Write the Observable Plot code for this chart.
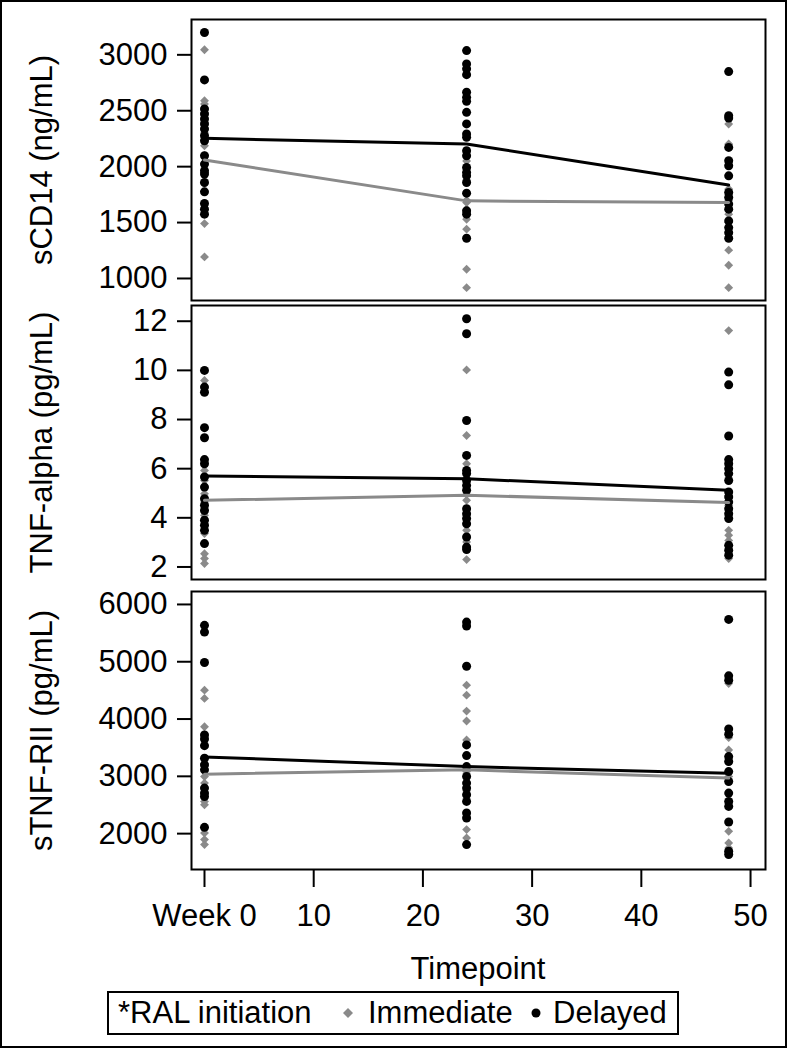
<!DOCTYPE html>
<html>
<head>
<meta charset="utf-8">
<script src="https://cdn.jsdelivr.net/npm/d3@7"></script>
<script src="https://cdn.jsdelivr.net/npm/@observablehq/plot@0.6"></script>
<style>
  body { margin: 0; background: #fff; }
  #fig { position: relative; width: 788px; height: 1050px; background: #fff; overflow: hidden;
         font-family: "Liberation Sans", Arial, sans-serif; color: #000; }
  .abs { position: absolute; }
  #border { position: absolute; left: 0; top: 0; width: 787px; height: 1048px; border: 2px solid #000; box-sizing: border-box; pointer-events: none; }
  #xtitle { position: absolute; left: 191px; width: 574px; top: 953px; text-align: center; font-size: 31px; line-height: 31px; }
  #legend { position: absolute; left: 107px; top: 991px; width: 572px; height: 44px; border: 2px solid #000; box-sizing: border-box; font-size: 31px; }
  #legend span { position: absolute; top: 0; line-height: 40px; white-space: nowrap; }
  #legend svg { position: absolute; }
</style>
</head>
<body>
<div id="fig">
  <div id="border"></div>
  <div id="xtitle">Timepoint</div>
  <div id="legend"></div>
</div>
<script>
// ---------------- data ----------------
const weeks = [0, 24, 48];
const xTicks = [0, 10, 20, 30, 40, 50];
const groupNames = ["Immediate", "Delayed"];
const legendTitle = "*RAL initiation";
const xTitle = "Timepoint";

// sCD14 (ng/mL): one array per timepoint (week 0, 24, 48)
const sCD14Immediate = [
  [3045, 2590, 2560, 2480, 2400, 2337, 2300, 2187, 2100, 2023, 1950, 1850, 1491, 1193],
  [2050, 1950, 1874, 1700, 1680, 1620, 1530, 1441, 1082, 918],
  [2382, 2203, 1800, 1694, 1575, 1500, 1253, 1118, 918]
];
const sCD14Delayed = [
  [3200, 2776, 2516, 2471, 2427, 2382, 2337, 2277, 2232, 2098, 2023, 1963, 1934, 1858, 1775, 1670, 1620, 1575],
  [3038, 2919, 2875, 2823, 2665, 2620, 2584, 2486, 2382, 2292, 2262, 2142, 2098, 1993, 1948, 1918, 1858, 1763, 1605, 1575, 1360],
  [2850, 2456, 2435, 2172, 2053, 2008, 1918, 1769, 1724, 1665, 1620, 1515, 1455, 1410, 1360]
];
const sCD14ImmediateLine = [2059, 1694, 1679];
const sCD14DelayedLine = [2253, 2203, 1835];
const sCD14Ticks = [1000, 1500, 2000, 2500, 3000];

// TNF-alpha (pg/mL)
const tnfImmediate = [
  [9.59, 5.93, 5.52, 4.98, 4.64, 4.1, 3.36, 2.54, 2.34, 2.14],
  [10.02, 7.35, 6.2, 4.95, 4.71, 3.49, 3.02, 2.3],
  [11.62, 4.9, 4.5, 3.49, 3.29, 3.08, 2.34]
];
const tnfDelayed = [
  [10.0, 9.32, 9.11, 7.67, 7.26, 6.37, 6.2, 5.66, 5.25, 4.78, 4.51, 4.3, 3.9, 3.7, 3.49, 2.95],
  [12.1, 11.49, 7.96, 6.54, 5.93, 5.8, 5.52, 5.32, 5.12, 4.37, 4.17, 3.97, 3.76, 3.22, 2.81, 2.71],
  [9.93, 9.41, 7.33, 6.37, 6.2, 6.0, 5.8, 5.52, 5.05, 4.85, 4.64, 4.37, 4.17, 3.97, 2.88, 2.68, 2.48]
];
const tnfImmediateLine = [4.71, 4.92, 4.62];
const tnfDelayedLine = [5.70, 5.59, 5.12];
const tnfTicks = [2, 4, 6, 8, 10, 12];

// sTNF-RII (pg/mL)
const stnfImmediate = [
  [4504, 4360, 3866, 3220, 2997, 2882, 2562, 2504, 2012, 1896, 1809],
  [4591, 4417, 4139, 3965, 3635, 3083, 2750, 2070, 1925],
  [4620, 3675, 3461, 2997, 2040, 1838, 1751]
];
const stnfDelayed = [
  [5635, 5518, 4986, 3722, 3652, 3536, 3316, 3200, 3113, 2795, 2708, 2649, 2110],
  [5692, 5623, 4922, 3548, 3362, 3170, 2997, 2882, 2795, 2678, 2562, 2360, 2273, 1809],
  [5739, 4754, 4678, 3826, 3734, 3345, 3258, 3083, 2910, 2708, 2562, 2475, 2203, 1692, 1635]
];
const stnfImmediateLine = [3038, 3113, 2969];
const stnfDelayedLine = [3339, 3170, 3056];
const stnfTicks = [2000, 3000, 4000, 5000, 6000];

// ---------------- drawing ----------------
const FONT = '"Liberation Sans", Arial, sans-serif';
const FS = 31;
const GRAY = "#8a8a8a";
const xDomain = [-1.19, 51.37];

const tidy = (arr) => arr.flatMap((vals, i) => vals.map(v => ({week: weeks[i], value: v})));
const lineData = (vals) => vals.map((v, i) => ({week: weeks[i], value: v}));

function panel({top, bottom, domain, ticks, title, imm, del, immLine, delLine, xAxis}) {
  const mt = 2, mb = xAxis ? 64 : 2;
  const marks = [
    Plot.axisY({ticks, tickSize: 14, tickPadding: 10, label: null, strokeWidth: 2, tickFormat: d => String(d)}),
    Plot.text([title], {frameAnchor: "left", dx: -149, rotate: -90, fontSize: FS, fill: "#000", textAnchor: "middle"}),
    Plot.dot(tidy(imm), {x: "week", y: "value", symbol: "diamond2", r: 4, fill: GRAY, stroke: "none"}),
    Plot.dot(tidy(del), {x: "week", y: "value", symbol: "circle", r: 4.5, fill: "#000", stroke: "none"}),
    Plot.line(lineData(immLine), {x: "week", y: "value", stroke: GRAY, strokeWidth: 3}),
    Plot.line(lineData(delLine), {x: "week", y: "value", stroke: "#000", strokeWidth: 3}),
    Plot.frame({stroke: "#000", strokeWidth: 2})
  ];
  if (xAxis) {
    marks.push(Plot.axisX({ticks: xTicks, tickSize: 18, tickPadding: 16, label: null, strokeWidth: 2,
      tickFormat: d => d === 0 ? "Week 0" : String(d)}));
  }
  const plot = Plot.plot({
    width: 788,
    height: bottom - top + mt + mb,
    marginLeft: 191, marginRight: 23, marginTop: mt, marginBottom: mb,
    style: {fontFamily: FONT, fontSize: FS + "px", color: "#000", background: "transparent", overflow: "visible"},
    x: {domain: xDomain, axis: xAxis ? undefined : null},
    y: {domain},
    marks
  });
  const wrap = document.createElement("div");
  wrap.className = "abs";
  wrap.style.left = "0px";
  wrap.style.top = (top - mt) + "px";
  wrap.appendChild(plot);
  document.getElementById("fig").appendChild(wrap);
}

panel({top: 19, bottom: 300, domain: [803, 3316], ticks: sCD14Ticks, title: "sCD14 (ng/mL)",
  imm: sCD14Immediate, del: sCD14Delayed, immLine: sCD14ImmediateLine, delLine: sCD14DelayedLine});
panel({top: 305, bottom: 579, domain: [1.49, 12.64], ticks: tnfTicks, title: "TNF-alpha (pg/mL)",
  imm: tnfImmediate, del: tnfDelayed, immLine: tnfImmediateLine, delLine: tnfDelayedLine});
panel({top: 591, bottom: 869, domain: [1374, 6226], ticks: stnfTicks, title: "sTNF-RII (pg/mL)",
  imm: stnfImmediate, del: stnfDelayed, immLine: stnfImmediateLine, delLine: stnfDelayedLine, xAxis: true});

document.getElementById("xtitle").textContent = xTitle;

// legend
const legend = document.getElementById("legend");
legend.innerHTML = `
  <span style="left:9px">${legendTitle}</span>
  <svg width="12" height="12" style="left:233px;top:14px"><polygon points="6,1 11,6 6,11 1,6" fill="${GRAY}"/></svg>
  <span style="left:259px">${groupNames[0]}</span>
  <svg width="12" height="12" style="left:421px;top:14px"><circle cx="6" cy="6" r="4.5" fill="#000"/></svg>
  <span style="left:444px">${groupNames[1]}</span>`;
</script>
</body>
</html>
